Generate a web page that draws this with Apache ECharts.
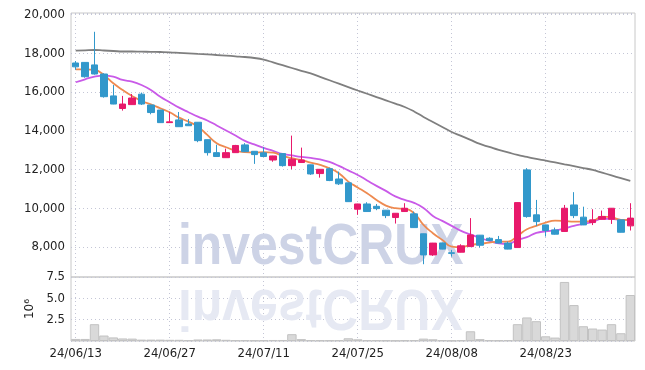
<!DOCTYPE html>
<html>
<head>
<meta charset="utf-8">
<script src="https://cdn.jsdelivr.net/npm/echarts@6/dist/echarts.min.js"></script>
<style>
html,body{margin:0;padding:0;background:#fff;}
#chart{width:645px;height:370px;}
</style>
</head>
<body>
<div id="chart"></div>
<script>
const dates = ['24/06/13','24/06/14','24/06/17','24/06/18','24/06/19','24/06/20','24/06/21','24/06/24','24/06/25','24/06/26',
'24/06/27','24/06/28','24/07/01','24/07/02','24/07/03','24/07/04','24/07/05','24/07/08','24/07/09','24/07/10',
'24/07/11','24/07/12','24/07/15','24/07/16','24/07/17','24/07/18','24/07/19','24/07/22','24/07/23','24/07/24',
'24/07/25','24/07/26','24/07/29','24/07/30','24/07/31','24/08/01','24/08/02','24/08/05','24/08/06','24/08/07',
'24/08/08','24/08/09','24/08/12','24/08/13','24/08/14','24/08/16','24/08/19','24/08/20','24/08/21','24/08/22',
'24/08/23','24/08/26','24/08/27','24/08/28','24/08/29','24/08/30','24/09/02','24/09/03','24/09/04','24/09/05'];

const opens = [17500,17530,17400,16930,15800,15150,15350,15890,15330,15070,
14420,14560,14350,14440,13540,12870,12610,12870,13270,12940,
12860,12490,12820,12200,12360,12240,11790,12040,11510,11310,
9950,10220,10100,9900,9520,9830,9710,8680,7590,8210,
7700,7730,8020,8610,8450,8380,8200,7970,11980,9660,
9140,8880,8800,10170,9540,9260,9430,9430,9400,9090];

const closes = [17300,16790,16930,15760,15380,15380,15690,15380,14940,14420,
14460,14210,14260,13490,12870,12670,12870,13240,12920,12770,
12670,12700,12200,12530,12490,11770,12010,11430,11260,10340,
10220,9830,9980,9620,9740,10000,9000,7590,8200,7890,
7670,8060,8620,8090,8330,8200,7890,10290,9570,9310,
8850,8660,10000,9620,9140,9400,9570,10000,8760,9490];

const highs = [17600,17550,19110,16970,16360,15800,15900,15970,15340,15080,
14980,14970,14610,14450,13550,13280,13080,13270,13360,12950,
13150,12710,12830,13750,13130,12250,12020,12100,11890,11320,
10230,10310,10220,9910,9750,10260,9830,8690,8210,8220,
7850,8140,9490,8620,8500,8570,8280,10300,12070,10430,
9150,9000,10170,10830,10080,9950,9880,10010,9410,10260];

const lows = [17150,16740,16900,15710,15370,15040,15340,15330,14850,14410,
14400,14200,14250,13410,12720,12660,12600,12860,12900,12290,
12650,12400,12150,12010,12350,11720,11580,11400,11200,10330,
9660,9820,9900,9490,9210,9820,8990,7110,7540,7880,
7500,7720,8010,7970,8320,8190,7880,7960,9510,9090,
8540,8640,8780,9490,9130,9130,9420,9190,8750,8850];

const ma5 = [17174,17174,17138,16880,16452,16106,15797,15539,15368,15162,
14956,14677,14471,14213,13784,13356,13150,12974,12892,12871,
12892,12871,12701,12582,12494,12355,12236,12066,11808,11375,
11075,10776,10430,10136,10002,9966,9744,9140,8712,8367,
8021,7990,8108,8160,8227,8273,8279,8573,8918,9089,
9259,9362,9347,9311,9311,9347,9568,9537,9398,9398];

const ma10 = [16504,16658,16793,16844,16793,16622,16535,16364,16106,15761,
15472,15193,14956,14729,14532,14274,14016,13758,13475,13294,
13113,12959,12804,12726,12649,12597,12520,12391,12185,11952,
11720,11436,11153,10895,10611,10430,10276,10018,9605,9347,
9089,8830,8650,8470,8315,8186,8160,8367,8506,8727,
8805,8857,8960,9089,9192,9295,9450,9450,9398,9398];

const maLong = [18134,18155,18170,18144,18119,18093,18093,18083,18077,18067,
18052,18026,18000,17969,17943,17912,17881,17845,17809,17757,
17670,17530,17386,17241,17097,16958,16782,16607,16431,16256,
16080,15910,15740,15570,15399,15229,14997,14713,14455,14197,
13939,13733,13526,13320,13165,13010,12881,12752,12649,12545,
12458,12365,12267,12174,12076,11978,11839,11695,11550,11411];

const volumes = [240000,240000,1970000,640000,420000,300000,280000,160000,160000,160000,
140000,140000,100000,180000,180000,200000,140000,100000,100000,80000,
100000,120000,120000,800000,220000,100000,80000,80000,100000,320000,
200000,100000,100000,80000,60000,80000,100000,280000,200000,100000,
60000,100000,1140000,220000,100000,80000,100000,1970000,2760000,2320000,
550000,400000,6920000,4210000,1730000,1460000,1340000,1970000,910000,5390000];

const ohlc = dates.map((d, i) => [opens[i], closes[i], lows[i], highs[i]]);

const FONT = '"DejaVu Sans Condensed", "Liberation Sans", sans-serif';
const gridLine = {show: true, lineStyle: {color: '#c4c6d6', type: [1, 3], width: 1}};
const WM_FONT = 'bold 57px "Liberation Sans", "DejaVu Sans", sans-serif';

const chart = echarts.init(document.getElementById('chart'), null, {renderer: 'canvas'});
chart.setOption({
  animation: false,
  backgroundColor: '#ffffff',
  grid: [
    {left: 71, right: 10, top: 13, height: 264, show: true, borderColor: '#c8c8c8', borderWidth: 1, containLabel: false},
    {left: 71, right: 10, top: 277, height: 64, show: true, borderColor: '#c8c8c8', borderWidth: 1, containLabel: false}
  ],
  xAxis: [
    {type: 'category', gridIndex: 0, data: dates, boundaryGap: true,
     axisLine: {show: false}, axisTick: {show: false, alignWithLabel: true, interval: 9},
     axisLabel: {show: false, interval: 9},
     splitLine: Object.assign({interval: 9, alignWithLabel: true}, gridLine)},
    {type: 'category', gridIndex: 1, data: dates, boundaryGap: true,
     axisLine: {show: false}, axisTick: {show: false, alignWithLabel: true, interval: 9},
     axisLabel: {show: true, interval: 9, color: '#222', fontFamily: FONT, fontSize: 13, margin: 6},
     splitLine: Object.assign({interval: 9, alignWithLabel: true}, gridLine)}
  ],
  yAxis: [
    {type: 'value', gridIndex: 0, min: 6450, max: 20080, splitNumber: 7, minInterval: 2000, maxInterval: 2000,
     axisLine: {show: false}, axisTick: {show: false},
     axisLabel: {color: '#222', fontFamily: FONT, fontSize: 13, margin: 6, showMinLabel: false, showMaxLabel: false,
       formatter: v => v.toLocaleString('en-US')},
     splitLine: gridLine},
    {type: 'value', gridIndex: 1, min: 0, max: 7500000, interval: 2500000,
     name: '10\u2076', nameLocation: 'middle', nameRotate: 90, nameGap: 32,
     nameTextStyle: {color: '#222', fontFamily: 'DejaVu Sans', fontSize: 12},
     axisLine: {show: false}, axisTick: {show: false},
     axisLabel: {color: '#222', fontFamily: FONT, fontSize: 13, margin: 6, showMinLabel: false,
       formatter: v => (v / 1e6).toFixed(1)},
     splitLine: gridLine}
  ],
  graphic: [
    {type: 'text', x: 178, y: 277, scaleX: 0.875, z: 1, silent: true,
     style: {text: 'investCRUX', font: WM_FONT, fill: '#cdd3e6', verticalAlign: 'bottom', align: 'left'}},
    {type: 'text', x: 178, y: 277, scaleX: 0.875, scaleY: -1, z: 1, silent: true,
     style: {text: 'investCRUX', font: WM_FONT, fill: '#e6e9f3', verticalAlign: 'bottom', align: 'left'}}
  ],
  series: [
    {type: 'candlestick', xAxisIndex: 0, yAxisIndex: 0, data: ohlc, barWidth: 7, z: 5,
     itemStyle: {color: '#e8196b', color0: '#3298cb', borderColor: '#e8196b', borderColor0: '#3298cb', borderWidth: 1}},
    {type: 'line', xAxisIndex: 0, yAxisIndex: 0, data: maLong, showSymbol: false, smooth: true, z: 4,
     lineStyle: {color: '#7f7f7f', width: 1.8}},
    {type: 'line', xAxisIndex: 0, yAxisIndex: 0, data: ma10, showSymbol: false, smooth: true, z: 4,
     lineStyle: {color: '#c95ae8', width: 1.8}},
    {type: 'line', xAxisIndex: 0, yAxisIndex: 0, data: ma5, showSymbol: false, smooth: true, z: 4,
     lineStyle: {color: '#ee8a50', width: 1.8}},
    {type: 'bar', xAxisIndex: 1, yAxisIndex: 1, data: volumes, barCategoryGap: '0%', z: 3,
     itemStyle: {color: '#d9d9d9', borderColor: '#c2c2c2', borderWidth: 1}}
  ]
});
</script>
</body>
</html>
